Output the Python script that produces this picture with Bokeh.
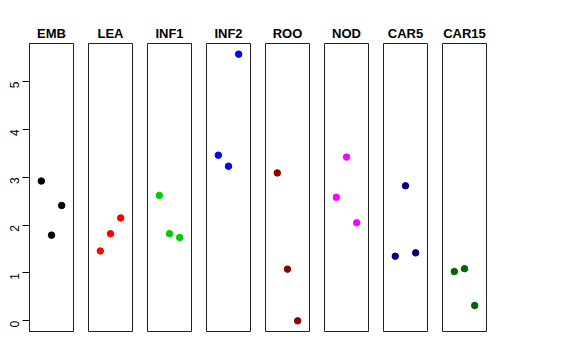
from bokeh.plotting import figure
from bokeh.layouts import row
from bokeh.models import Range1d, FixedTicker
from bokeh.embed import file_html
from bokeh.resources import INLINE
import math

groups = ["EMB", "LEA", "INF1", "INF2", "ROO", "NOD", "CAR5", "CAR15"]
positions = [1, 2, 3]
emb = [2.92, 1.79, 2.41]
lea = [1.46, 1.82, 2.15]
inf1 = [2.62, 1.82, 1.74]
inf2 = [3.46, 3.23, 5.57]
roo = [3.09, 1.08, 0.00]
nod = [2.58, 3.42, 2.05]
car5 = [1.35, 2.82, 1.42]
car15 = [1.03, 1.09, 0.32]
series = [emb, lea, inf1, inf2, roo, nod, car5, car15]
colors = ["#000000", "#FF0000", "#00CD00", "#0000FF", "#8B0000", "#FF00FF", "#000080", "#006400"]
y_ticks = [0, 1, 2, 3, 4, 5]

all_vals = [v for s in series for v in s]
ymin, ymax = min(all_vals), max(all_vals)
pad = 0.04 * (ymax - ymin)
xlo, xhi = 0, 4
xpad = 0.04 * (xhi - xlo)

FONT = "Liberation Sans"
figs = []
for i, (g, vals, col) in enumerate(zip(groups, series, colors)):
    first = i == 0
    p = figure(
        width=81 if first else 59,
        height=341,
        x_range=Range1d(xlo - xpad, xhi + xpad),
        y_range=Range1d(ymin - pad, ymax + pad),
        output_backend="svg",
        toolbar_location=None,
        x_axis_location=None,
        y_axis_location="left" if first else None,
        min_border_left=29 if first else 7,
        min_border_right=8,
        min_border_top=43,
        min_border_bottom=10,
        title=g,
    )
    p.title.align = "center"
    p.title.text_font = FONT
    p.title.text_font_size = "13px"
    p.title.text_font_style = "bold"
    p.title.text_color = "black"
    p.title.standoff = 6
    p.xgrid.visible = False
    p.ygrid.visible = False
    p.outline_line_color = "#222222"
    p.outline_line_width = 1
    p.background_fill_color = "white"
    p.border_fill_color = "white"
    if first:
        ax = p.yaxis[0]
        ax.ticker = FixedTicker(ticks=y_ticks)
        ax.major_tick_in = 0
        ax.major_tick_out = 7
        ax.minor_tick_line_color = None
        ax.axis_line_color = "#222222"
        ax.major_tick_line_color = "black"
        ax.major_label_orientation = math.pi / 2
        ax.major_label_text_font = FONT
        ax.major_label_text_font_size = "12px"
        ax.major_label_text_color = "black"
        ax.major_label_standoff = 8
    p.scatter(positions, vals, size=6.5, color=col, line_color=col)
    figs.append(p)

layout = row(*figs, spacing=0)
open("out.html", "w").write(file_html(layout, INLINE))
